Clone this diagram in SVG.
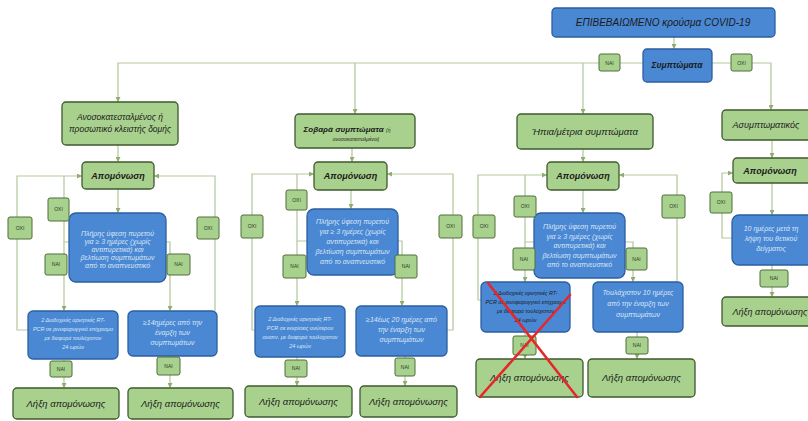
<svg xmlns="http://www.w3.org/2000/svg" width="808" height="421" viewBox="0 0 808 421">
<defs>
<marker id="ar" viewBox="0 0 6 6" refX="6" refY="3" markerWidth="5" markerHeight="5" markerUnits="userSpaceOnUse" orient="auto"><path d="M0,0 L6,3 L0,6 z" fill="#8fad6e"/></marker>
<style>
.c{fill:none;stroke:#b3c79b;stroke-width:1.2}
.ca{fill:none;stroke:#b3c79b;stroke-width:1.2;marker-end:url(#ar)}
.g{fill:#a9d18e;stroke:#3e5a2e;stroke-width:1.3}
.b{fill:#4a88d4;stroke:#2b5fa0;stroke-width:1.3}
.l{fill:#a9d18e;stroke:#4f6e3c;stroke-width:1}
.t{font-family:"Liberation Sans",Arial,sans-serif;font-style:italic;fill:#1b1b1b;text-anchor:middle}
.tb{font-family:"Liberation Sans",Arial,sans-serif;font-style:italic;font-weight:bold;fill:#1b1b1b;text-anchor:middle}
.w{font-family:"Liberation Sans",Arial,sans-serif;font-style:italic;fill:#dbe6f4;text-anchor:middle}
.s{font-family:"Liberation Sans",Arial,sans-serif;fill:#2a3a1e;text-anchor:middle;font-size:5px}
</style>
</defs>
<rect width="808" height="421" fill="#ffffff"/>

<g id="connectors">
<path class="ca" d="M674,37 V49"/>
<path class="ca" d="M643,63 H118 V102"/>
<path class="ca" d="M355,63 V114"/>
<path class="ca" d="M583,63 V114"/>
<path class="ca" d="M712,63 H771 V110"/>
<path class="ca" d="M118,145 V162"/>
<path class="ca" d="M118,189 V213"/>
<path class="ca" d="M28,330 H17 V176 H82"/>
<path class="c" d="M69,242 H64 V176"/>
<path class="ca" d="M64,242 V311"/>
<path class="ca" d="M166,242 H170 V311"/>
<path class="ca" d="M215,311 V176 H154"/>
<path class="ca" d="M64,359 V388"/>
<path class="ca" d="M170,356 V388"/>
<path class="ca" d="M352,148 V162"/>
<path class="ca" d="M351,190 V209"/>
<path class="ca" d="M255,330 H252 V174 H314"/>
<path class="c" d="M307,241 H297 V174"/>
<path class="ca" d="M297,241 V306"/>
<path class="ca" d="M398,241 H402 V306"/>
<path class="ca" d="M447,330 H453 V174 H387"/>
<path class="ca" d="M297,357 V386"/>
<path class="ca" d="M405,356 V386"/>
<path class="ca" d="M583,149 V162"/>
<path class="ca" d="M583,190 V213"/>
<path class="ca" d="M481,300 H478 V175 H547"/>
<path class="c" d="M534,242 H525 V175"/>
<path class="ca" d="M525,242 V282"/>
<path class="ca" d="M625,242 H633 V282"/>
<path class="ca" d="M677,282 V175 H619"/>
<path class="ca" d="M525,332 V359"/>
<path class="ca" d="M637,332 V359"/>
<path class="ca" d="M772,140 V158"/>
<path class="ca" d="M772,183 V215"/>
<path class="ca" d="M772,265 V297"/>
<path class="ca" d="M732,238 H722 V173 H733"/>
</g>

<g id="n-confirmed"><rect class="b" x="552" y="8" width="223" height="29" rx="4"/><text class="t" x="663" y="26" font-size="10">ΕΠΙΒΕΒΑΙΩΜΕΝΟ κρούσμα COVID-19</text></g>
<g id="n-symptoms"><rect class="b" x="643" y="49" width="69" height="33" rx="4"/><text class="tb" x="677" y="68" font-size="8.5">Συμπτώματα</text></g>

<g id="n-immuno"><rect class="g" x="62" y="102" width="116" height="43" rx="4"/><text class="t" font-size="8.5" x="120" y="120">Ανοσοκατεσταλμένος ή<tspan x="120" y="132">προσωπικό κλειστής δομής</tspan></text></g>
<g id="n-severe"><rect class="g" x="295" y="114" width="120" height="34" rx="4"/><text class="tb" font-size="8" x="347" y="132">Σοβαρά συμπτώματα <tspan font-weight="normal" font-size="5">(ή</tspan></text><text class="t" font-size="5" x="356" y="141">ανοσοκατεσταλμένοι)</text></g>
<g id="n-mild"><rect class="g" x="517" y="114" width="136" height="35" rx="4"/><text class="t" font-size="9.5" x="585" y="135">Ήπια/μέτρια συμπτώματα</text></g>
<g id="n-asympt"><rect class="g" x="722" y="110" width="95" height="30" rx="4"/><text class="t" font-size="9" x="766" y="128">Ασυμπτωματικός</text></g>

<g id="n-iso1"><rect class="g" x="82" y="162" width="72" height="27" rx="4"/><text class="tb" font-size="9" x="118" y="179">Απομόνωση</text></g>
<g id="n-iso2"><rect class="g" x="314" y="162" width="73" height="28" rx="4"/><text class="tb" font-size="9" x="350.5" y="179">Απομόνωση</text></g>
<g id="n-iso3"><rect class="g" x="547" y="162" width="72" height="28" rx="4"/><text class="tb" font-size="9" x="583" y="179">Απομόνωση</text></g>
<g id="n-iso4"><rect class="g" x="733" y="158" width="82" height="25" rx="4"/><text class="tb" font-size="9" x="770" y="174">Απομόνωση</text></g>

<g id="n-q1"><rect class="b" x="69" y="213" width="97" height="69" rx="7"/><text class="w" font-size="7" x="117.5" y="236">Πλήρης ύφεση πυρετού<tspan x="117.5" y="244">για ≥ 3 ημέρες (χωρίς</tspan><tspan x="117.5" y="252">αντιπυρετικά) και</tspan><tspan x="117.5" y="260">βελτίωση συμπτωμάτων</tspan><tspan x="117.5" y="268">από το αναπνευστικό</tspan></text></g>
<g id="n-q2"><rect class="b" x="307" y="209" width="91" height="66" rx="7"/><text class="w" font-size="7" x="352.5" y="224">Πλήρης ύφεση πυρετού<tspan x="352.5" y="234">για ≥ 3 ημέρες (χωρίς</tspan><tspan x="352.5" y="244">αντιπυρετικά) και</tspan><tspan x="352.5" y="254">βελτίωση συμπτωμάτων</tspan><tspan x="352.5" y="264">από το αναπνευστικό</tspan></text></g>
<g id="n-q3"><rect class="b" x="534" y="213" width="91" height="65" rx="7"/><text class="w" font-size="7" x="579.5" y="229">Πλήρης ύφεση πυρετού<tspan x="579.5" y="238.5">για ≥ 3 ημέρες (χωρίς</tspan><tspan x="579.5" y="248">αντιπυρετικά) και</tspan><tspan x="579.5" y="257.5">βελτίωση συμπτωμάτων</tspan><tspan x="579.5" y="267">από το αναπνευστικό</tspan></text></g>
<g id="n-q4"><rect class="b" x="732" y="215" width="84" height="50" rx="7"/><text class="w" font-size="7" x="771" y="231">10 ημέρες μετά τη<tspan x="771" y="241">λήψη του θετικού</tspan><tspan x="771" y="251">δείγματος</tspan></text></g>

<g id="n-o1a"><rect class="b" x="28" y="311" width="90" height="48" rx="5"/><text class="w" font-size="5.4" x="73" y="322">2 Διαδοχικές αρνητικές RT-<tspan x="73" y="331">PCR σε ρινοφαρυγγικό επίχρισμα</tspan><tspan x="73" y="340">με διαφορά τουλάχιστον</tspan><tspan x="73" y="349">24 ωρών</tspan></text></g>
<g id="n-o1b"><rect class="b" x="128" y="311" width="89" height="45" rx="5"/><text class="w" font-size="7" x="172.5" y="325">≥14ημέρες από την<tspan x="172.5" y="335">έναρξη των</tspan><tspan x="172.5" y="345">συμπτωμάτων</tspan></text></g>
<g id="n-o2a"><rect class="b" x="255" y="306" width="90" height="51" rx="5"/><text class="w" font-size="5.4" x="300" y="321">2 Διαδοχικές αρνητικές RT-<tspan x="300" y="330">PCR σε εκκρίσεις ανώτερου</tspan><tspan x="300" y="339">αναπν. με διαφορά τουλάχιστον</tspan><tspan x="300" y="348">24 ωρών</tspan></text></g>
<g id="n-o2b"><rect class="b" x="356" y="306" width="91" height="50" rx="5"/><text class="w" font-size="7" x="401.5" y="322">≥14έως 20 ημέρες από<tspan x="401.5" y="332">την έναρξη των</tspan><tspan x="401.5" y="342">συμπτωμάτων</tspan></text></g>
<g id="n-o3a"><rect class="b" x="481" y="282" width="89" height="50" rx="5"/><text class="t" font-size="5.4" fill="#1d2c4a" x="525.5" y="295">2 Διαδοχικές αρνητικές RT-<tspan x="525.5" y="304">PCR σε ρινοφαρυγγικό επίχρισμα</tspan><tspan x="525.5" y="313">με διαφορά τουλάχιστον</tspan><tspan x="525.5" y="322">24 ωρών</tspan></text></g>
<g id="n-o3b"><rect class="b" x="593" y="282" width="90" height="50" rx="5"/><text class="w" font-size="7" x="638" y="295">Τουλάχιστον 10 ημέρες<tspan x="638" y="306">από την έναρξη των</tspan><tspan x="638" y="317">συμπτωμάτων</tspan></text></g>

<g id="n-end1a"><rect class="g" x="13" y="388" width="106" height="31" rx="4"/><text class="t" font-size="9.5" x="66" y="407">Λήξη απομόνωσης</text></g>
<g id="n-end1b"><rect class="g" x="128" y="388" width="105" height="31" rx="4"/><text class="t" font-size="9.5" x="180.5" y="407">Λήξη απομόνωσης</text></g>
<g id="n-end2a"><rect class="g" x="245" y="386" width="107" height="31" rx="4"/><text class="t" font-size="9.5" x="298.5" y="405">Λήξη απομόνωσης</text></g>
<g id="n-end2b"><rect class="g" x="360" y="386" width="97" height="31" rx="4"/><text class="t" font-size="9.5" x="408.5" y="405">Λήξη απομόνωσης</text></g>
<g id="n-end3a"><rect class="g" x="476" y="359" width="107" height="38" rx="4"/><text class="t" font-size="9.5" x="529.5" y="381">Λήξη απομόνωσης</text></g>
<g id="n-end3b"><rect class="g" x="588" y="359" width="107" height="38" rx="4"/><text class="t" font-size="9.5" x="641.5" y="381">Λήξη απομόνωσης</text></g>
<g id="n-end4"><rect class="g" x="722" y="297" width="95" height="29" rx="4"/><text class="t" font-size="9" x="770" y="315">Λήξη απομόνωσης</text></g>

<g id="labels">
<g id="lb-top-yes"><rect class="l" x="599" y="54" width="21" height="17" rx="2"/><text class="s" x="609.5" y="64.5">ΝΑΙ</text></g>
<g id="lb-top-no"><rect class="l" x="731" y="54" width="21" height="17" rx="2"/><text class="s" x="741.5" y="64.5">ΟΧΙ</text></g>
<g id="lb-1a"><rect class="l" x="8" y="217" width="24" height="22" rx="2"/><text class="s" x="20" y="229.5">ΟΧΙ</text></g>
<g id="lb-1b"><rect class="l" x="48" y="198" width="21" height="23" rx="2"/><text class="s" x="58.5" y="211">ΟΧΙ</text></g>
<g id="lb-1c"><rect class="l" x="197" y="217" width="22" height="22" rx="2"/><text class="s" x="208" y="229.5">ΟΧΙ</text></g>
<g id="lb-1d"><rect class="l" x="45" y="254" width="22" height="21" rx="2"/><text class="s" x="56" y="266">ΝΑΙ</text></g>
<g id="lb-1e"><rect class="l" x="167" y="254" width="23" height="21" rx="2"/><text class="s" x="178.5" y="266">ΝΑΙ</text></g>
<g id="lb-1f"><rect class="l" x="50" y="361" width="22" height="16" rx="2"/><text class="s" x="61" y="370.5">ΝΑΙ</text></g>
<g id="lb-1g"><rect class="l" x="157" y="357" width="23" height="18" rx="2"/><text class="s" x="168.5" y="367.5">ΝΑΙ</text></g>
<g id="lb-2a"><rect class="l" x="241" y="215" width="22" height="23" rx="2"/><text class="s" x="252" y="228">ΟΧΙ</text></g>
<g id="lb-2b"><rect class="l" x="286" y="190" width="21" height="20" rx="2"/><text class="s" x="296.5" y="201.5">ΟΧΙ</text></g>
<g id="lb-2c"><rect class="l" x="439" y="215" width="23" height="23" rx="2"/><text class="s" x="450.5" y="228">ΟΧΙ</text></g>
<g id="lb-2d"><rect class="l" x="283" y="255" width="23" height="23" rx="2"/><text class="s" x="294.5" y="268">ΝΑΙ</text></g>
<g id="lb-2e"><rect class="l" x="395" y="255" width="22" height="23" rx="2"/><text class="s" x="406" y="268">ΝΑΙ</text></g>
<g id="lb-2f"><rect class="l" x="285" y="360" width="22" height="17" rx="2"/><text class="s" x="296" y="370">ΝΑΙ</text></g>
<g id="lb-2g"><rect class="l" x="395" y="358" width="20" height="18" rx="2"/><text class="s" x="405" y="368.5">ΝΑΙ</text></g>
<g id="lb-3a"><rect class="l" x="473" y="215" width="22" height="23" rx="2"/><text class="s" x="484" y="228">ΟΧΙ</text></g>
<g id="lb-3b"><rect class="l" x="514" y="196" width="22" height="21" rx="2"/><text class="s" x="525" y="208">ΟΧΙ</text></g>
<g id="lb-3c"><rect class="l" x="662" y="195" width="23" height="23" rx="2"/><text class="s" x="673.5" y="208">ΟΧΙ</text></g>
<g id="lb-3d"><rect class="l" x="513" y="248" width="22" height="22" rx="2"/><text class="s" x="524" y="260.5">ΝΑΙ</text></g>
<g id="lb-3e"><rect class="l" x="626" y="248" width="21" height="22" rx="2"/><text class="s" x="636.5" y="260.5">ΝΑΙ</text></g>
<g id="lb-3f"><rect class="l" x="513" y="336" width="23" height="19" rx="2"/><text class="s" x="524.5" y="347">ΝΑΙ</text></g>
<g id="lb-3g"><rect class="l" x="626" y="337" width="22" height="17" rx="2"/><text class="s" x="637" y="347">ΝΑΙ</text></g>
<g id="lb-4a"><rect class="l" x="710" y="192" width="22" height="21" rx="2"/><text class="s" x="721" y="204">ΟΧΙ</text></g>
<g id="lb-4b"><rect class="l" x="760" y="270" width="28" height="17" rx="2"/><text class="s" x="774" y="280">ΝΑΙ</text></g>
</g>

<g id="cross" stroke="#e8262a" stroke-width="2.5" stroke-linecap="round">
<line x1="488" y1="283" x2="577" y2="397"/>
<line x1="570" y1="295" x2="480" y2="397"/>
</g>
</svg>
